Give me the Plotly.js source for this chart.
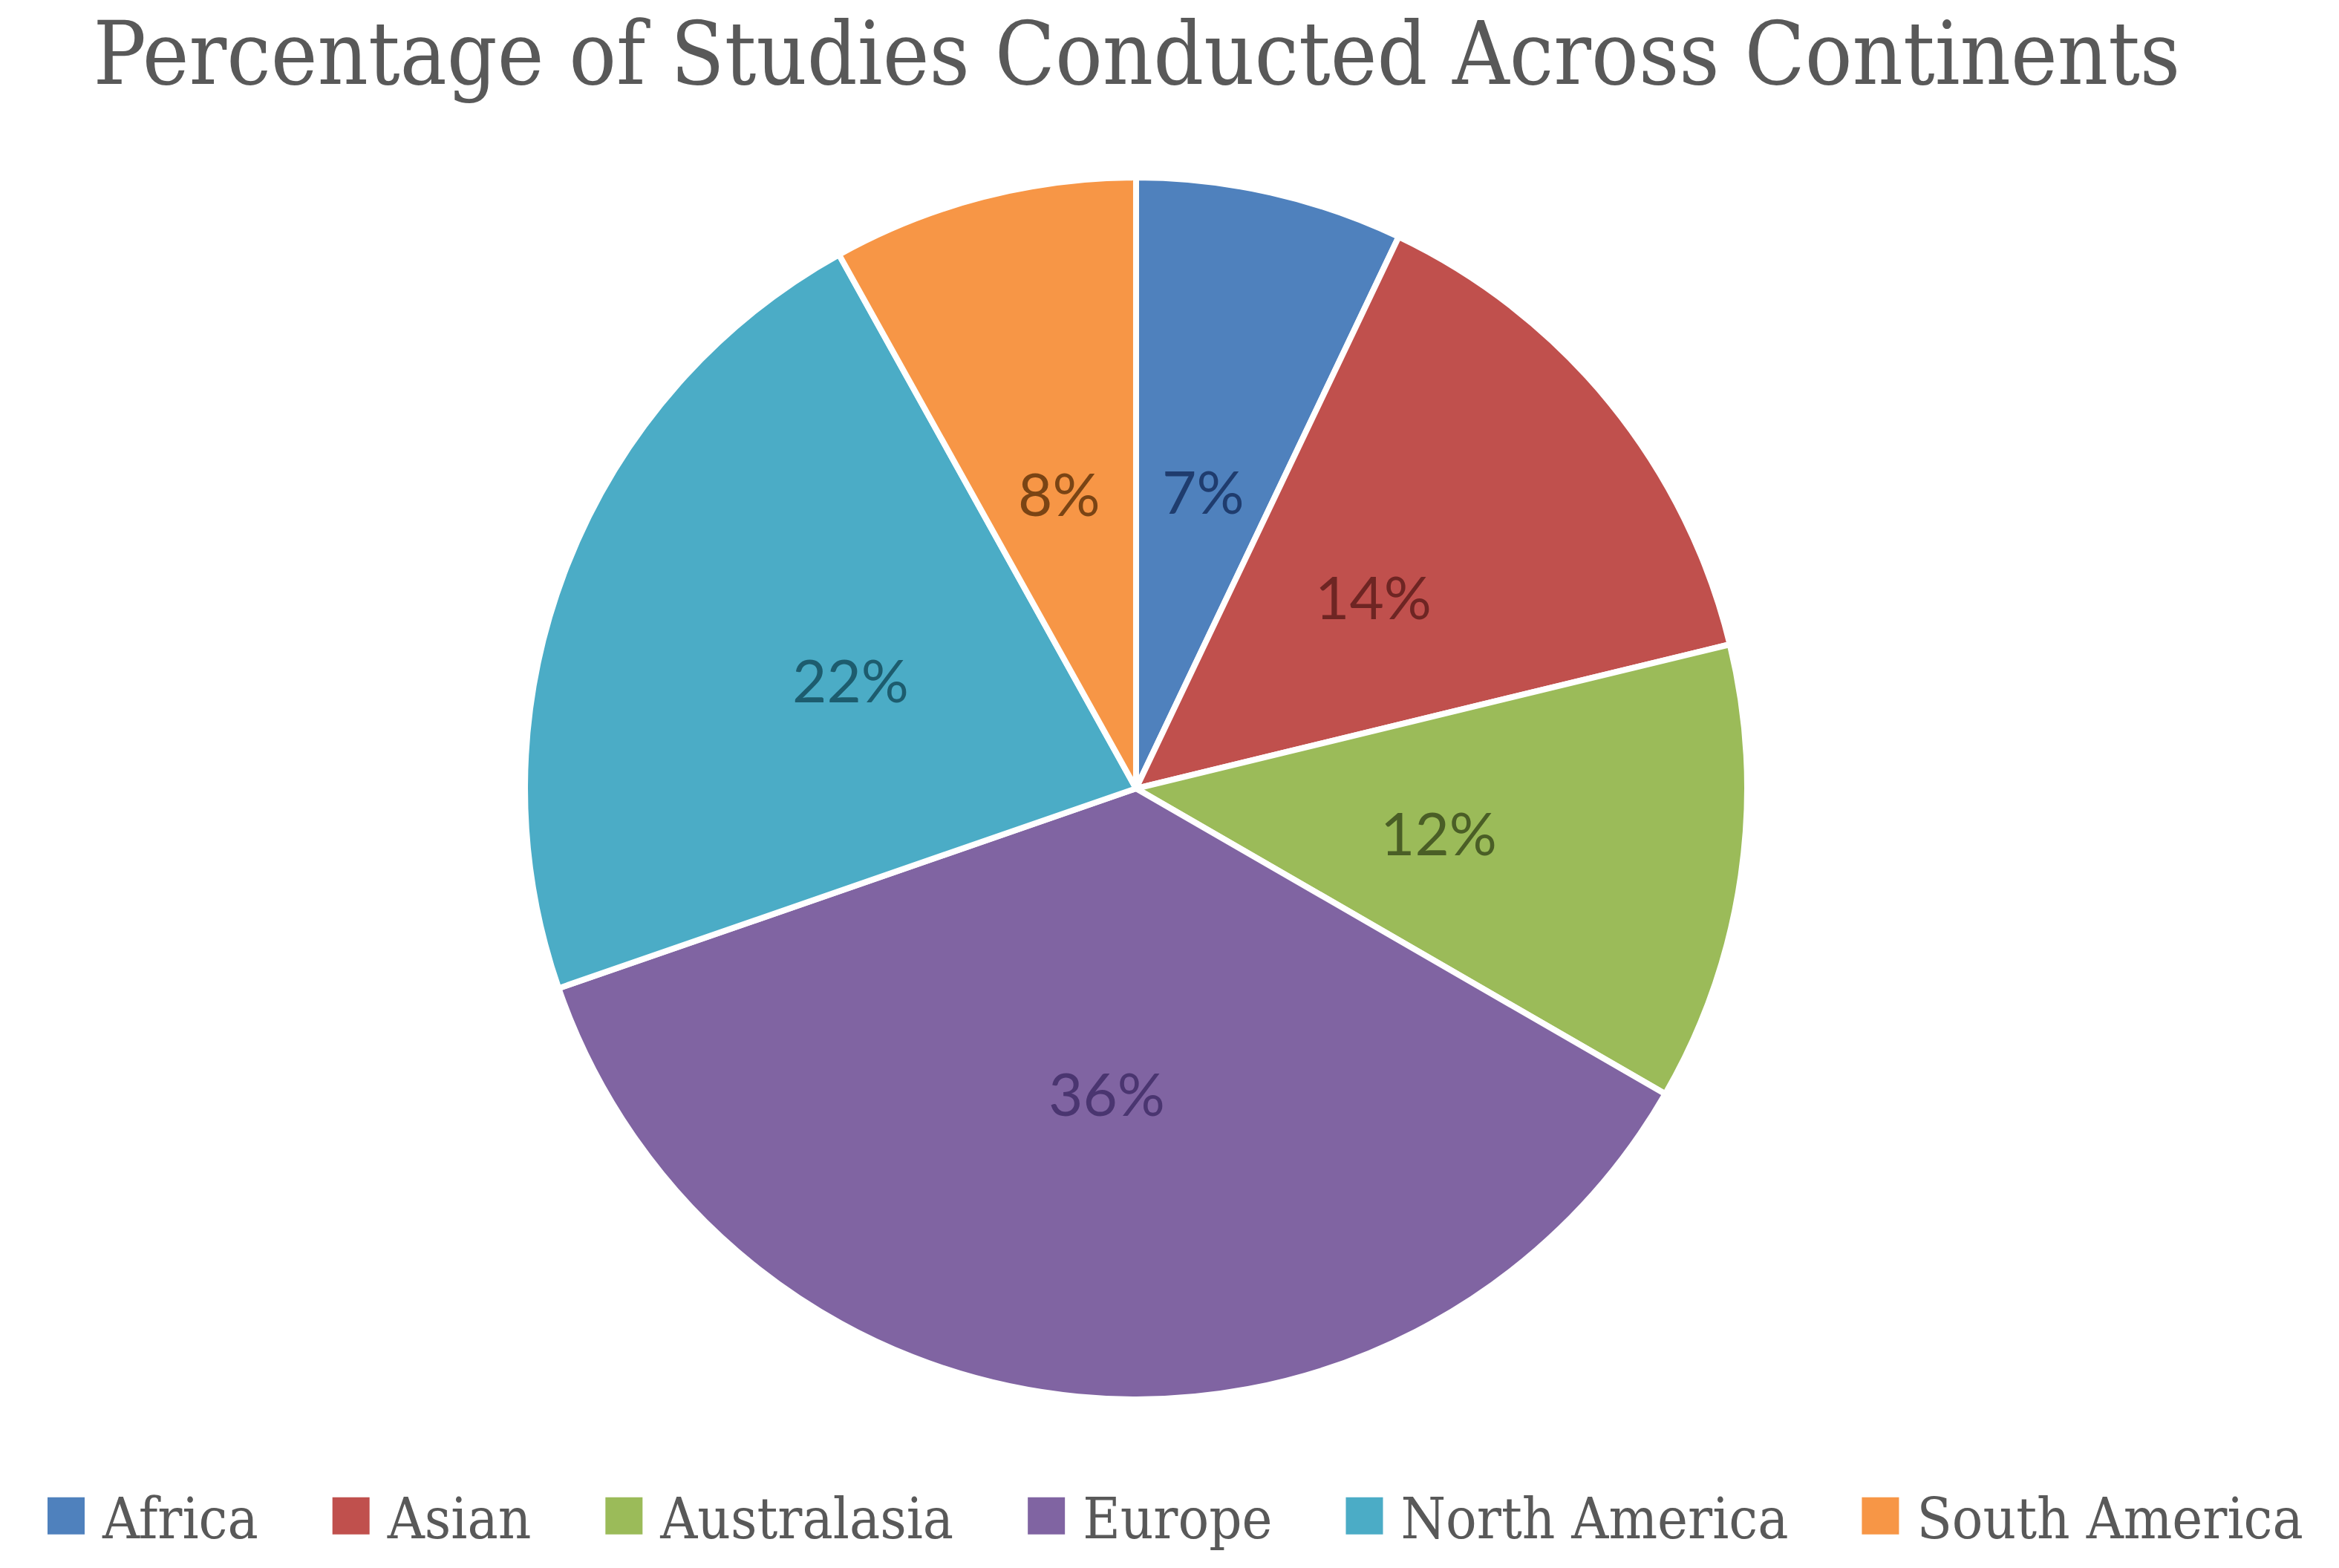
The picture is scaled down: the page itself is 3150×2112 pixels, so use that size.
<!DOCTYPE html>
<html>
<head>
<meta charset="utf-8">
<script src="https://cdn.plot.ly/plotly-3.0.1.min.js"></script>
<style>html,body{margin:0;padding:0;background:#fff;}#chart{width:3150px;height:2112px;}</style>
</head>
<body>
<div id="chart"></div>
<script>
const categories = ["Africa", "Asian", "Australasia", "Europe", "North America", "South America"];
const percentages = [7, 14, 12, 36, 22, 8];
const sliceColors = ["#4F81BD", "#C0504D", "#9BBB59", "#8064A2", "#4BACC6", "#F79646"];
const labelColors = ["#1F3C6E", "#6E2523", "#4A5E26", "#4A3570", "#1D5C6E", "#7A4414"];
const chartTitle = "Percentage of Studies Conducted Across Continents";

const W = 3150, H = 2112;
const pieDomain = { x: [0.2244, 0.7470], y: [0.1075, 0.8868] };

// Pie geometry derived from the domain (Plotly uses the smaller side for the radius)
const domWpx = (pieDomain.x[1] - pieDomain.x[0]) * W;
const domHpx = (pieDomain.y[1] - pieDomain.y[0]) * H;
const rPx = Math.min(domWpx, domHpx) / 2;
const cx = (pieDomain.x[0] + pieDomain.x[1]) / 2;
const cy = (pieDomain.y[0] + pieDomain.y[1]) / 2;

// Data labels at half radius along each slice's mid-angle (clockwise from 12 o'clock)
const total = percentages.reduce((a, b) => a + b, 0);
let cum = 0;
const labelAnnotations = percentages.map((v, i) => {
  const mid = (cum + v / 2) / total * 2 * Math.PI;
  cum += v;
  return {
    xref: "paper", yref: "paper",
    x: cx + 0.5 * rPx * Math.sin(mid) / W,
    y: cy + 0.5 * rPx * Math.cos(mid) / H,
    text: v + "%",
    showarrow: false,
    xanchor: "center", yanchor: "middle",
    font: { family: "Lato, 'Open Sans', sans-serif", size: 80, color: labelColors[i] }
  };
});

const trace = {
  type: "pie",
  labels: categories,
  values: percentages,
  sort: false,
  direction: "clockwise",
  rotation: 0,
  marker: { colors: sliceColors, line: { color: "#ffffff", width: 8 } },
  textposition: "none",
  hoverinfo: "label+value",
  domain: pieDomain
};

const layout = {
  width: W,
  height: H,
  paper_bgcolor: "#ffffff",
  margin: { l: 0, r: 0, t: 0, b: 0 },
  title: {
    text: chartTitle,
    font: { family: "'DejaVu Serif Condensed', 'DejaVu Serif', serif", size: 118, color: "#595959" },
    x: 0.486, xanchor: "center",
    y: 0.966, yanchor: "middle"
  },
  annotations: labelAnnotations,
  showlegend: true,
  legend: {
    orientation: "h",
    x: 0.49, xanchor: "center",
    y: 0.033, yanchor: "middle",
    itemwidth: 158,
    font: { family: "'DejaVu Serif Condensed', 'DejaVu Serif', serif", size: 77, color: "#595959" },
    traceorder: "normal"
  }
};

Plotly.newPlot("chart", [trace], layout, { displayModeBar: false, staticPlot: true }).then(function (gd) {
  // enlarge the legend colour swatches into ~50px squares placed just before each label
  const swatch = 50, gapToText = 24, legendShift = -30;
  gd.querySelectorAll(".legend .traces").forEach(function (item) {
    const text = item.querySelector("text.legendtext");
    const pts = item.querySelector(".legendpoints");
    if (!text || !pts) return;
    const tx = parseFloat(text.getAttribute("x")) || 0;
    let pcx = 0;
    const tr = pts.getAttribute("transform");
    if (tr) {
      const m = tr.match(/translate\(\s*([-\d.]+)/);
      if (m) pcx = parseFloat(m[1]);
    }
    const targetCenter = tx - gapToText - swatch / 2;
    item.querySelectorAll(".legendpoints path").forEach(function (p) {
      p.setAttribute("transform", "translate(" + (targetCenter - pcx) + ",0) scale(" + (swatch / 12) + ")");
      p.style.strokeWidth = "0";
    });
  });
  // nudge the whole legend row left so the first key sits near the left edge like the reference
  const lg = gd.querySelector("g.legend");
  if (lg) {
    const t = lg.getAttribute("transform") || "";
    const m = t.match(/translate\(\s*([-\d.]+)[ ,]+([-\d.]+)/);
    if (m) lg.setAttribute("transform", "translate(" + (parseFloat(m[1]) + legendShift) + "," + m[2] + ")");
  }
});
</script>
</body>
</html>
